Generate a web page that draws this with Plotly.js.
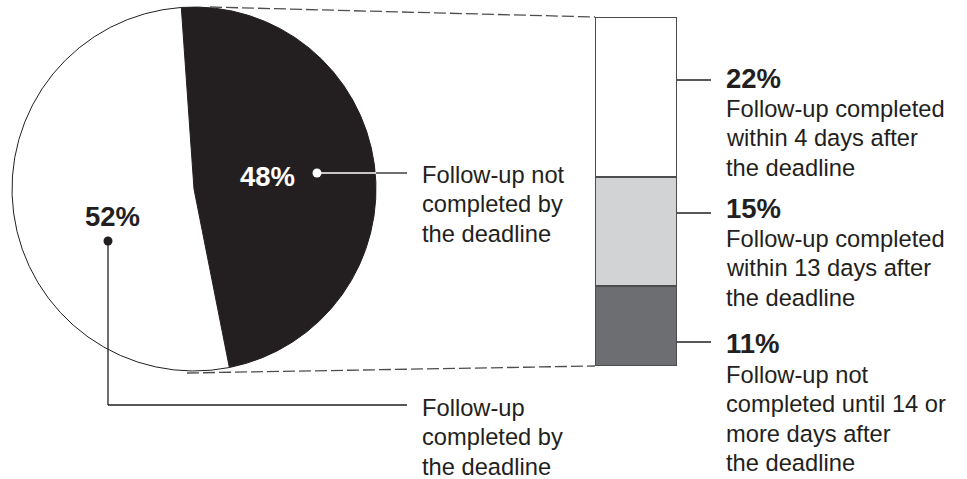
<!DOCTYPE html>
<html>
<head>
<meta charset="utf-8">
<script src="https://cdn.plot.ly/plotly-3.0.1.min.js"></script>
<style>html,body{margin:0;padding:0;background:#fff;}#chart{width:967px;height:479px;}</style>
</head>
<body>
<div id="chart"></div>
<script>
// ---- data ----
const pieLabels = ["Follow-up not completed by the deadline", "Follow-up completed by the deadline"];
const pieValues = [48, 52];
const barLabels = [
  "Follow-up not completed until 14 or more days after the deadline",
  "Follow-up completed within 13 days after the deadline",
  "Follow-up completed within 4 days after the deadline"
];
const barValues = [11, 15, 22];
const pieText = ["Follow-up not<br>completed by<br>the deadline", "Follow-up<br>completed by<br>the deadline"];
const barText = [
  "Follow-up not<br>completed until 14 or<br>more days after<br>the deadline",
  "Follow-up completed<br>within 13 days after<br>the deadline",
  "Follow-up completed<br>within 4 days after<br>the deadline"
];

// ---- styling ----
const W = 967, H = 479;
const INK = "#231f20";
const EDGE = "#4d4d4f";
const FONT = "Liberation Sans, Arial, Helvetica, sans-serif";
const pieColors = [INK, "#ffffff"];
const barColors = ["#6d6e71", "#d1d3d4", "#ffffff"];
const X = p => p / W;
const Y = p => 1 - p / H;
const BODY = 23.7, PCT = 27.5, LEAD = 29.3;

const total = barValues.reduce((a, b) => a + b, 0);

const traces = [{
  type: "pie",
  labels: pieLabels,
  values: pieValues,
  sort: false,
  direction: "clockwise",
  rotation: -4,
  textinfo: "none",
  hoverinfo: "label+value",
  marker: {colors: pieColors, line: {color: INK, width: 1}},
  domain: {x: [X(12), X(376)], y: [Y(372), Y(6)]},
  showlegend: false
}];
barValues.forEach((v, i) => {
  traces.push({
    type: "bar",
    x: ["b"],
    y: [v],
    name: barLabels[i],
    marker: {color: barColors[i], line: {color: EDGE, width: 1.6}},
    hoverinfo: "name+y",
    showlegend: false
  });
});

const shapes = [];
const line = (x0, y0, x1, y1, color, width, dash) => shapes.push({
  type: "line", xref: "paper", yref: "paper",
  x0: X(x0), y0: Y(y0), x1: X(x1), y1: Y(y1),
  line: {color: color, width: width, dash: dash || "solid"}
});
const dot = (cx, cy, r, color) => shapes.push({
  type: "circle", xref: "paper", yref: "paper",
  x0: X(cx - r), x1: X(cx + r), y0: Y(cy + r), y1: Y(cy - r),
  fillcolor: color, line: {width: 0}
});
// zoom connectors
line(210, 7, 595, 17, EDGE, 1.3, "12px,4px");
line(187, 373, 595, 366, EDGE, 1.3, "12px,4px");
// 48% pointer
line(317, 173, 376, 173, "#ffffff", 1.3);
line(376, 173, 407, 173, INK, 1.3);
dot(317, 173, 4.5, "#ffffff");
// 52% pointer
line(108, 241, 108, 405, INK, 1.3);
line(108, 405, 407, 405, INK, 1.3);
dot(108, 241, 4.5, INK);
// bar pointers
const barPtrY = [342, 213, 80];
barPtrY.forEach(y => line(677, y, 711, y, INK, 1.3));

const ann = [];
const txt = (x, y, text, size, color, bold, xanchor) => ann.push({
  xref: "paper", yref: "paper", x: X(x), y: Y(y),
  text: bold ? "<b>" + text + "</b>" : text,
  showarrow: false, xanchor: xanchor || "left", yanchor: "middle", align: "left",
  font: {family: FONT, size: size, color: color}
});
const block = (x, yFirst, text) => text.split("<br>").forEach((t, k) =>
  txt(x, yFirst + k * LEAD, t, BODY, INK, false));

txt(267, 177, pieValues[0] + "%", PCT, "#ffffff", true, "center");
txt(112, 217, pieValues[1] + "%", PCT, INK, true, "center");
block(420, 175, pieText[0]);
block(420, 408, pieText[1]);
const barPctY = [343, 208, 78];
const barDescY = [375, 239, 109];
barValues.forEach((v, i) => {
  txt(724, barPctY[i], v + "%", PCT, INK, true);
  block(724, barDescY[i], barText[i]);
});

const layout = {
  width: W, height: H,
  margin: {l: 0, r: 0, t: 0, b: 0},
  paper_bgcolor: "#ffffff", plot_bgcolor: "rgba(0,0,0,0)",
  barmode: "stack", bargap: 0,
  xaxis: {domain: [X(595), X(677)], range: [-0.5, 0.5], visible: false, fixedrange: true},
  yaxis: {domain: [Y(366), Y(17)], range: [0, total], visible: false, fixedrange: true},
  shapes: shapes,
  annotations: ann,
  showlegend: false,
  font: {family: FONT, color: INK}
};

Plotly.newPlot("chart", traces, layout, {displayModeBar: false, staticPlot: true});
</script>
</body>
</html>
